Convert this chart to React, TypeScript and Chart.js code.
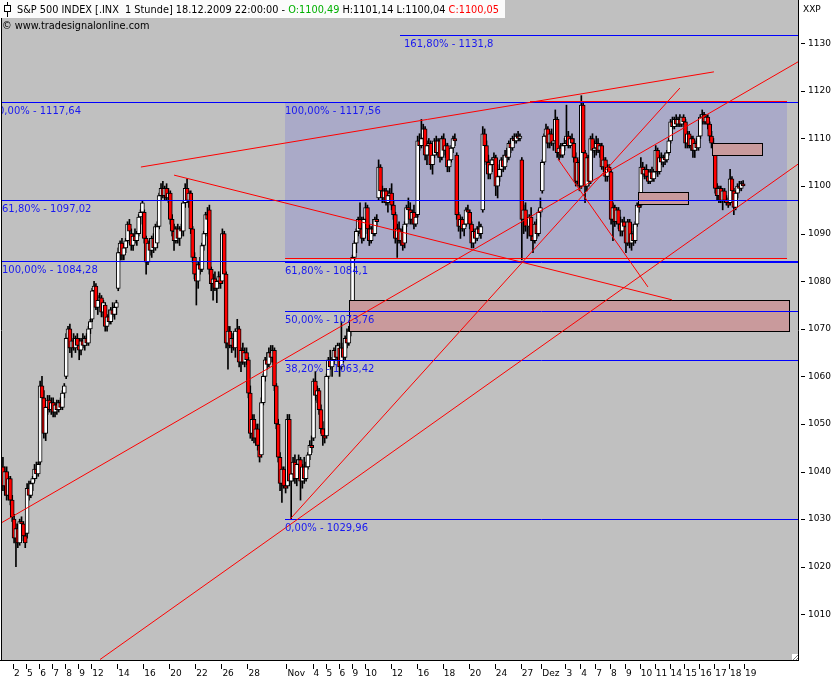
import { useEffect, useRef } from "react";
import { Chart, registerables } from "chart.js";

Chart.register(...registerables);

// ---------- data ----------
const dayLabels = [
  "", "2", "5", "6", "7", "8", "9", "12", "", "14", "", "16", "", "20", "", "22", "", "26", "", "28", "", "",
  "Nov", "", "4", "5", "6", "9", "10", "", "12", "", "16", "", "18", "", "20", "", "24", "", "27", "",
  "Dez", "", "3", "4", "7", "8", "9", "10", "11", "14", "15", "16", "17", "18", "19",
];
const barsPerDay = [
  6, 7, 7, 7, 7, 7, 7, 7, 7, 7, 7, 7, 7, 7, 7, 7, 7, 7, 7, 7, 7, 7,
  7, 7, 7, 7, 7, 7, 7, 7, 7, 7, 7, 7, 7, 7, 7, 7, 7, 7, 4, 7,
  7, 6, 8, 8, 8, 8, 8, 8, 8, 8, 8, 8, 8, 8, 0,
];

const open = [
  1041, 1037, 1040, 1035, 1038.5, 1034,
  1030, 1026, 1028, 1025, 1029.5, 1029, 1026.5,
  1027, 1036.5, 1035, 1037.5, 1038.5, 1040.5, 1039.5,
  1042, 1058, 1055.5, 1048, 1053.5, 1055, 1053,
  1054.5, 1052.5, 1054, 1053, 1054.5, 1053.5, 1056.5,
  1060, 1068, 1070, 1066, 1067.5, 1066, 1068,
  1066.5, 1065.5, 1067.5, 1066.5, 1068, 1067, 1070,
  1072, 1078, 1079, 1074.5, 1076, 1076.5, 1073.5,
  1075, 1070.5, 1072.5, 1071.5, 1074, 1073, 1074.5,
  1078.5, 1086, 1088, 1085.5, 1087, 1088.5, 1092,
  1090, 1087.5, 1089.5, 1088.5, 1090, 1093.5, 1094.5,
  1094.5, 1089, 1084, 1088, 1086.5, 1089, 1087,
  1088, 1091.5, 1098, 1099.5, 1098, 1099.5, 1097.5,
  1098.5, 1093, 1090.5, 1088.5, 1091, 1089, 1091,
  1090.5, 1096.5, 1099.5, 1097, 1098.5, 1091, 1085,
  1081.5, 1080, 1083.5, 1082.5, 1087.5, 1090, 1094,
  1095, 1082.5, 1079.5, 1080.5, 1078.5, 1080, 1081,
  1080, 1090, 1081.5, 1067, 1069.5, 1066.5, 1068,
  1066, 1069.5, 1070, 1063, 1065.5, 1063, 1065,
  1063.5, 1056.5, 1048, 1051, 1047, 1049, 1045.5,
  1043.5, 1054.5, 1060, 1063.5, 1062.5, 1065, 1064,
  1065.5, 1058, 1050, 1043, 1037.5, 1040.5, 1037,
  1037, 1051, 1038, 1039.5, 1042, 1038.5, 1041.5,
  1042.5, 1038, 1041, 1038.5, 1041, 1043.5, 1045.5,
  1047, 1059, 1056, 1057, 1053, 1049, 1047.5,
  1047.5, 1060, 1063.5, 1062, 1063.5, 1065.5, 1064,
  1066, 1062, 1066, 1064, 1068, 1067, 1069.5,
  1070, 1085, 1088, 1090.5, 1093, 1091, 1089,
  1093, 1095.5, 1091, 1088.5, 1091, 1090, 1093,
  1097.5, 1104, 1099, 1097.5, 1099, 1096.5, 1098,
  1098.5, 1096, 1094, 1089, 1091, 1088.5, 1090.5,
  1088, 1092, 1095.5, 1095, 1093, 1094.5, 1092,
  1094, 1109.5, 1108.5, 1110, 1112, 1106.5, 1108.5,
  1109, 1104.5, 1106.5, 1109.5, 1107, 1109.5, 1106,
  1110, 1107.5, 1108.5, 1104, 1105.5, 1108, 1110,
  1106.5, 1094, 1091.5, 1093, 1091, 1092, 1095,
  1094.5, 1092, 1088, 1090.5, 1089, 1091, 1090,
  1095, 1111, 1108.5, 1105, 1102.5, 1104.5, 1105.5,
  1106, 1100, 1102, 1103.5, 1105.5, 1104, 1106.5,
  1106, 1109, 1108, 1110, 1109.5, 1110.5, 1110,
  1105.5, 1093, 1095, 1091.5,
  1091.5, 1093.5, 1089.5, 1088.5, 1092, 1090, 1094.5,
  1099, 1105, 1110.5, 1112, 1109, 1111, 1109,
  1109.5, 1114, 1107, 1108, 1106.5, 1108.5,
  1109.5, 1110.5, 1108.5, 1110, 1109, 1106, 1101, 1105,
  1100, 1117, 1107, 1100, 1106, 1101, 1110, 1107.5,
  1108, 1109, 1107.5, 1108.5, 1104, 1105.5, 1102, 1104,
  1103, 1093, 1095.5, 1092.5, 1095, 1092, 1090.5, 1092.5,
  1091.5, 1088, 1092.5, 1088, 1090, 1088.5, 1092, 1096,
  1096, 1104, 1102.5, 1103.5, 1102, 1101, 1103, 1101.5,
  1103, 1107.5, 1103, 1106, 1105, 1106, 1105.5, 1107,
  1109.5, 1113.5, 1112.5, 1114, 1113, 1114, 1113, 1114.5,
  1113.5, 1109, 1111, 1108.5, 1110, 1107.5, 1109, 1108,
  1110.5, 1114.5, 1115, 1113.5, 1114.5, 1113, 1110.5, 1109,
  1106.5, 1099.5, 1098, 1099.5, 1097, 1099, 1097, 1096.5,
  1096.5, 1101.5, 1099, 1095.5, 1098.5, 1100, 1099.5, 1100.49,
];

const high = [
  1043, 1041, 1041, 1039, 1039, 1035,
  1031, 1029, 1029, 1030, 1030.5, 1029.5, 1028,
  1037.5, 1038, 1038, 1039, 1041.5, 1042, 1042,
  1059, 1060, 1057, 1054, 1056, 1056, 1055.5,
  1055.5, 1054.5, 1055, 1055, 1055.5, 1057, 1058.5,
  1069, 1070.5, 1071, 1068, 1069, 1068.5, 1069,
  1068, 1068, 1069, 1068.5, 1069, 1070.5, 1072,
  1078.5, 1080, 1079.5, 1077, 1077.5, 1077, 1076,
  1075.5, 1073, 1074, 1074.5, 1075.5, 1075, 1076,
  1087, 1088.5, 1089, 1088, 1089, 1092.5, 1093,
  1091, 1090, 1091, 1090.5, 1094, 1095, 1097,
  1095, 1089.5, 1088.5, 1089, 1089.5, 1090, 1092,
  1092.5, 1098.5, 1100.5, 1101, 1100, 1100.5, 1099.5,
  1099, 1094, 1092, 1091.5, 1092, 1091.5, 1092,
  1097, 1100.5, 1101.5, 1099, 1099, 1091.5, 1086,
  1083.5, 1084, 1085, 1088, 1090.5, 1094.5, 1095.5,
  1096, 1083, 1081.5, 1082, 1080.5, 1082, 1081.5,
  1091, 1090.5, 1082, 1070.5, 1070.5, 1069, 1069,
  1070, 1072, 1070.5, 1066, 1067, 1066, 1066,
  1064, 1058, 1052, 1052, 1050, 1050, 1046.5,
  1055.5, 1060.5, 1064, 1065, 1066, 1066.5, 1066.5,
  1066, 1058.5, 1051, 1044, 1041, 1041, 1039,
  1052, 1052, 1040, 1043, 1043.5, 1042.5, 1043.5,
  1043, 1041.5, 1043, 1042, 1044, 1046.5, 1047.5,
  1059.5, 1061, 1058, 1057.5, 1054, 1050.5, 1049,
  1060.5, 1064, 1065.5, 1064, 1066, 1066.5, 1067,
  1067, 1071.5, 1067, 1068.5, 1070, 1070.5, 1072,
  1085.5, 1088.5, 1091, 1093.5, 1096.5, 1093.5, 1093.5,
  1096.5, 1096, 1092, 1091.5, 1093, 1093.5, 1094,
  1105.5, 1104.5, 1100, 1099.5, 1099.5, 1099, 1099.5,
  1100.5, 1097, 1094.5, 1092, 1092.5, 1091, 1091.5,
  1092.5, 1096, 1097.5, 1096.5, 1095, 1096, 1094,
  1110.5, 1111, 1114, 1113, 1112.5, 1109.5, 1110,
  1109.5, 1107, 1110, 1110.5, 1110, 1110, 1110.5,
  1111, 1109, 1109, 1106.5, 1108.5, 1110.5, 1111,
  1107, 1094.5, 1093.5, 1093.5, 1092.5, 1095.5, 1096,
  1095, 1092.5, 1091, 1091, 1091.5, 1092.5, 1092,
  1112.5, 1112, 1109.5, 1106.5, 1105.5, 1106, 1107,
  1106.5, 1102.5, 1104.5, 1106, 1106.5, 1107.5, 1108,
  1109.5, 1110, 1110.5, 1111, 1111, 1111.5, 1111,
  1106, 1096, 1096.5, 1093,
  1094, 1095.5, 1090.5, 1092.5, 1093, 1095, 1097.5,
  1105.5, 1111, 1113, 1112.5, 1111.5, 1112, 1110,
  1116, 1114.5, 1108.5, 1109, 1109, 1110,
  1117, 1111.5, 1110.5, 1111, 1110, 1107, 1105.5, 1106,
  1119, 1117.5, 1107.5, 1106.5, 1106.5, 1110.5, 1111, 1109.5,
  1110.5, 1110, 1109, 1109, 1106, 1106, 1104.5, 1104.5,
  1103.5, 1096.5, 1096, 1095.5, 1095.5, 1093.5, 1093, 1093.5,
  1092.5, 1093, 1093, 1090.5, 1092, 1092.5, 1096.5, 1097,
  1106, 1105, 1104, 1104.5, 1103.5, 1103.5, 1104, 1103.5,
  1108.5, 1108, 1106.5, 1107, 1106.5, 1107, 1107.5, 1110,
  1114, 1114.5, 1114.5, 1115, 1114.5, 1115, 1114.5, 1115,
  1114, 1111.5, 1111.5, 1110.5, 1110.5, 1109.5, 1110, 1110.5,
  1115, 1116, 1115.5, 1115, 1115, 1113.5, 1111.5, 1110,
  1107, 1100.5, 1100, 1100, 1099.5, 1099.5, 1098, 1097.5,
  1103.5, 1102, 1099.5, 1099, 1100.5, 1101, 1101, 1101.14,
];

const low = [
  1036, 1035, 1034, 1034, 1033, 1029.5,
  1025, 1020, 1024, 1024.5, 1028, 1025.5, 1024,
  1026, 1034, 1034.5, 1036, 1038, 1038.5, 1039,
  1041.5, 1055, 1047, 1046.5, 1052, 1052.5, 1052,
  1051.5, 1051.5, 1052, 1052.5, 1053, 1053, 1055.5,
  1059.5, 1066, 1065, 1064, 1065.5, 1065, 1066,
  1063.5, 1064.5, 1066, 1065.5, 1066.5, 1066.5, 1069,
  1071.5, 1076.5, 1074, 1073, 1075, 1072.5, 1072.5,
  1069.5, 1069.5, 1071, 1071, 1072.5, 1072, 1073,
  1078, 1084.5, 1084.5, 1084.5, 1086, 1088, 1089.5,
  1086.5, 1086.5, 1088, 1087.5, 1089.5, 1092, 1094,
  1088, 1081.5, 1083.5, 1085.5, 1085, 1086, 1086.5,
  1087, 1091, 1097, 1097.5, 1097, 1097, 1096.5,
  1092, 1089.5, 1086.5, 1088, 1088, 1087.5, 1089.5,
  1089.5, 1095.5, 1096.5, 1095.5, 1090, 1084, 1080.5,
  1075, 1078.5, 1081.5, 1082, 1086.5, 1089.5, 1091.5,
  1081.5, 1078, 1076, 1078, 1075.5, 1078.5, 1078.5,
  1079.5, 1080.5, 1066, 1061.5, 1066, 1065, 1065.5,
  1064, 1068, 1062, 1061, 1062.5, 1062, 1062.5,
  1055.5, 1047, 1046.5, 1046, 1045.5, 1044.5, 1042,
  1043, 1054, 1059, 1061.5, 1062, 1063, 1063,
  1057, 1049, 1042, 1036, 1033.5, 1036.5, 1035.5,
  1036.5, 1037, 1029.96, 1038, 1037.5, 1037, 1040,
  1034, 1036.5, 1037.5, 1038, 1040.5, 1042.5, 1044,
  1046.5, 1055, 1054.5, 1052, 1048, 1045.5, 1046,
  1047, 1059.5, 1061.5, 1060, 1062.5, 1063.5, 1063.5,
  1060, 1061.5, 1063, 1063.5, 1066, 1066.5, 1068.5,
  1069.5, 1084.5, 1086, 1089.5, 1090, 1088, 1088.5,
  1091.5, 1090, 1087.5, 1088, 1089.5, 1089.5, 1091.5,
  1097, 1098, 1096.5, 1096.5, 1096, 1094.5, 1096.5,
  1095, 1093, 1088, 1085, 1088, 1087.5, 1086.5,
  1087, 1091.5, 1094, 1092, 1092, 1091, 1091.5,
  1093.5, 1107.5, 1108, 1108.5, 1105.5, 1104.5, 1106.5,
  1103.5, 1102.5, 1106, 1106.5, 1106, 1105, 1105.5,
  1106.5, 1106, 1103, 1103, 1105, 1107, 1108.5,
  1093, 1090.5, 1089, 1090.5, 1089.5, 1091.5, 1093,
  1091, 1087, 1087, 1088, 1088.5, 1089.5, 1089,
  1094.5, 1107, 1104.5, 1101.5, 1101.5, 1103, 1104.5,
  1098, 1097.5, 1101, 1102, 1103, 1103.5, 1105,
  1105.5, 1107, 1107.5, 1109, 1109, 1109.5, 1109.5,
  1084.5, 1090, 1090.5, 1089,
  1089.5, 1088.5, 1086, 1088, 1089, 1089.5, 1093.5,
  1098.5, 1104.5, 1109, 1108, 1108, 1108.5, 1107.5,
  1109, 1106, 1105.5, 1106, 1106, 1107.5,
  1109, 1108, 1108, 1108.5, 1105, 1100, 1100.5, 1099,
  1099.5, 1106, 1096.5, 1099, 1100, 1100.5, 1107, 1106,
  1106.5, 1107, 1106, 1103.5, 1103, 1101, 1101, 1102,
  1092, 1088.5, 1091.5, 1092, 1091, 1089.5, 1089.5, 1090.5,
  1086, 1087.5, 1087, 1086.5, 1087.5, 1088, 1091.5, 1094.5,
  1095.5, 1102, 1101.5, 1101.5, 1100.5, 1100.5, 1101, 1101,
  1102.5, 1102, 1102.5, 1104.5, 1104, 1104.5, 1105, 1106.5,
  1109, 1112, 1112, 1112.5, 1112.5, 1112.5, 1112.5, 1113,
  1108, 1108, 1108, 1107.5, 1106, 1106, 1107.5, 1107.5,
  1110, 1113, 1113, 1113, 1112, 1109.5, 1108, 1107.5,
  1098.5, 1097, 1096.5, 1096.5, 1095, 1096.5, 1096, 1095.5,
  1096, 1097.5, 1094, 1095, 1097.5, 1099, 1099, 1100.04,
];

const close = [
  1037, 1040, 1035, 1038.5, 1034, 1030.5,
  1026, 1028, 1025, 1029.5, 1029, 1026.5, 1025,
  1036.5, 1035, 1037.5, 1038.5, 1040.5, 1039.5, 1041.5,
  1058, 1055.5, 1048, 1053.5, 1055, 1053, 1054.5,
  1052.5, 1054, 1053, 1054.5, 1053.5, 1056.5, 1058,
  1068, 1070, 1066, 1067.5, 1066, 1068, 1066.5,
  1065.5, 1067.5, 1066.5, 1068, 1067, 1070, 1071.5,
  1078, 1079, 1074.5, 1076, 1076.5, 1073.5, 1075.5,
  1070.5, 1072.5, 1071.5, 1074, 1073, 1074.5, 1075.5,
  1086, 1088, 1085.5, 1087, 1088.5, 1092, 1090.5,
  1087.5, 1089.5, 1088.5, 1090, 1093.5, 1094.5, 1096.5,
  1089, 1084, 1088, 1086.5, 1089, 1087, 1091.5,
  1091.5, 1098, 1099.5, 1098, 1099.5, 1097.5, 1098.5,
  1093, 1090.5, 1088.5, 1091, 1089, 1091, 1090.5,
  1096.5, 1099.5, 1097, 1098.5, 1091, 1085, 1081.5,
  1080, 1083.5, 1082.5, 1087.5, 1090, 1094, 1093,
  1082.5, 1079.5, 1080.5, 1078.5, 1080, 1081, 1079.5,
  1090, 1081.5, 1067, 1069.5, 1066.5, 1068, 1066,
  1069.5, 1070, 1063, 1065.5, 1063, 1065, 1063.5,
  1056.5, 1048, 1051, 1047, 1049, 1045.5, 1043,
  1054.5, 1060, 1063.5, 1062.5, 1065, 1064, 1065.5,
  1058, 1050, 1043, 1037.5, 1040.5, 1037, 1036.5,
  1051, 1038, 1039.5, 1042, 1038.5, 1041.5, 1042.5,
  1038, 1041, 1038.5, 1041, 1043.5, 1045.5, 1045,
  1059, 1056, 1057, 1053, 1049, 1047.5, 1047,
  1060, 1063.5, 1062, 1063.5, 1065.5, 1064, 1066.5,
  1062, 1066, 1064, 1068, 1067, 1069.5, 1070,
  1085, 1088, 1090.5, 1093, 1091, 1089, 1093,
  1095.5, 1091, 1088.5, 1091, 1090, 1093, 1092.5,
  1104, 1099, 1097.5, 1099, 1096.5, 1098, 1098.5,
  1096, 1094, 1089, 1091, 1088.5, 1090.5, 1087.5,
  1092, 1095.5, 1095, 1093, 1094.5, 1092, 1093.5,
  1109.5, 1108.5, 1110, 1112, 1106.5, 1108.5, 1109,
  1104.5, 1106.5, 1109.5, 1107, 1109.5, 1106, 1110,
  1107.5, 1108.5, 1104, 1105.5, 1108, 1110, 1109.5,
  1094, 1091.5, 1093, 1091, 1092, 1095, 1094.5,
  1092, 1088, 1090.5, 1089, 1091, 1090, 1091.5,
  1111, 1108.5, 1105, 1102.5, 1104.5, 1105.5, 1106,
  1100, 1102, 1103.5, 1105.5, 1104, 1106.5, 1106,
  1109, 1108, 1110, 1109.5, 1110.5, 1110, 1110.5,
  1093, 1095, 1091.5, 1091.5,
  1093.5, 1089.5, 1088.5, 1092, 1090, 1094.5, 1095.5,
  1105, 1110.5, 1112, 1109, 1111, 1109, 1109.5,
  1114, 1107, 1108, 1106.5, 1108.5, 1109,
  1110.5, 1108.5, 1110, 1109, 1106, 1101, 1105, 1100,
  1117, 1107, 1100, 1106, 1101, 1110, 1107.5, 1108,
  1109, 1107.5, 1108.5, 1104, 1105.5, 1102, 1104, 1103,
  1093, 1095.5, 1092.5, 1095, 1092, 1090.5, 1092.5, 1091.5,
  1088, 1092.5, 1088, 1090, 1088.5, 1092, 1096, 1095.5,
  1104, 1102.5, 1103.5, 1102, 1101, 1103, 1101.5, 1103,
  1107.5, 1103, 1106, 1105, 1106, 1105.5, 1107, 1109.5,
  1113.5, 1112.5, 1114, 1113, 1114, 1113, 1114.5, 1113.5,
  1109, 1111, 1108.5, 1110, 1107.5, 1109, 1108, 1110.5,
  1114.5, 1115, 1113.5, 1114.5, 1113, 1110.5, 1109, 1108.5,
  1099.5, 1098, 1099.5, 1097, 1099, 1097, 1096.5, 1096,
  1101.5, 1099, 1095.5, 1098.5, 1100, 1099.5, 1100.5, 1100.05,
];

// axis range
const slotCount = 428;
const yMin = 1000.4;
const yMax = 1139.1;
const yStep = 10;

// Fibonacci levels (price) with their captions and first bar slot
const fibLevels = [1131.8, 1117.64, 1117.56, 1097.02, 1084.28, 1084.1, 1073.76, 1063.42, 1029.96];
const fibTexts = [
  "161,80% - 1131,8", "0,00% - 1117,64", "100,00% - 1117,56", "61,80% - 1097,02",
  "100,00% - 1084,28", "61,80% - 1084,1", "50,00% - 1073,76", "38,20% - 1063,42", "0,00% - 1029,96",
];
const fibFromSlot = [213.5, -0.5, 151.7, -0.5, -0.5, 151.7, 151.7, 151.7, 151.7];

// trend lines: [slot1, price1, slot2, price2]
const trendLines = [
  [74.2, 1104.0, 382.3, 1124.0],
  [92.0, 1102.3, 359.7, 1076.1],
  [-0.5, 1029.3, 427.5, 1126.1],
  [52.2, 1000.5, 427.5, 1104.6],
  [154.3, 1029.96, 364.0, 1120.6],
  [298.4, 1105.7, 346.8, 1078.8],
  [283.4, 1117.9, 421.6, 1117.9],
  [151.7, 1084.8, 421.6, 1084.8],
];

// zones: [slot1, slot2, priceTop, priceBottom]
const rangeZone = [151.7, 421.6, 1117.6, 1084.8];
const pinkZones = [
  [186.1, 422.6, 1076.1, 1069.6],
  [381.2, 408.1, 1109.0, 1106.5],
  [341.4, 368.3, 1098.7, 1096.2],
];

const headerTitle = "S&P 500 INDEX [.INX  1 Stunde] 18.12.2009 22:00:00 - ";
const headerOpen = "O:1100,49";
const headerHL = " H:1101,14 L:1100,04 ";
const headerClose = "C:1100,05";
const copyrightText = "\u00A9 www.tradesignalonline.com";
const unitText = "XXP";

// ---------- derived tables ----------
const slotLabels: string[] = [];
dayLabels.forEach((lab, d) => {
  const n = Math.max(barsPerDay[d], 1);
  for (let j = 0; j < n; j++) slotLabels.push(j === 0 ? lab : "");
});
while (slotLabels.length < slotCount) slotLabels.push("");

const FONT = '"DejaVu Sans", sans-serif';

const overlayPlugin = {
  id: "tsOverlay",
  beforeDraw(chart: any) {
    const { ctx, chartArea: a, width, height } = chart;
    ctx.save();
    ctx.fillStyle = "#ffffff";
    ctx.fillRect(0, 0, width, height);
    ctx.fillStyle = "#c0c0c0";
    ctx.fillRect(a.left, a.top, a.right - a.left, a.bottom - a.top);
    ctx.restore();
  },
  beforeDatasetsDraw(chart: any) {
    const { ctx, scales } = chart;
    const x = scales.x, y = scales.y;
    const [s1, s2, pt, pb] = rangeZone;
    const x1 = Math.round(x.getPixelForValue(s1));
    const x2 = Math.round(x.getPixelForValue(s2));
    const y1 = Math.round(y.getPixelForValue(pt));
    const y2 = Math.round(y.getPixelForValue(pb));
    ctx.save();
    ctx.fillStyle = "#aaaac8";
    ctx.fillRect(x1, y1, x2 - x1, y2 - y1);
    ctx.restore();
  },
  afterDatasetsDraw(chart: any) {
    const { ctx, chartArea: a, scales } = chart;
    const x = scales.x, y = scales.y;
    ctx.save();
    ctx.beginPath();
    ctx.rect(a.left, a.top, a.right - a.left, a.bottom - a.top);
    ctx.clip();

    // pink zones
    pinkZones.forEach(([s1, s2, pt, pb]) => {
      const x1 = Math.round(x.getPixelForValue(s1));
      const x2 = Math.round(x.getPixelForValue(s2));
      const y1 = Math.round(y.getPixelForValue(pt));
      const y2 = Math.round(y.getPixelForValue(pb));
      ctx.fillStyle = "#c99a9c";
      ctx.fillRect(x1, y1, x2 - x1, y2 - y1);
      ctx.strokeStyle = "#000000";
      ctx.lineWidth = 1;
      ctx.strokeRect(x1 + 0.5, y1 + 0.5, x2 - x1, y2 - y1);
    });

    // fib lines
    ctx.strokeStyle = "#0000ff";
    ctx.lineWidth = 1;
    fibLevels.forEach((lv, i) => {
      const yy = Math.round(y.getPixelForValue(lv)) + 0.5;
      const xs = x.getPixelForValue(fibFromSlot[i]);
      ctx.beginPath();
      ctx.moveTo(Math.round(xs), yy);
      ctx.lineTo(a.right, yy);
      ctx.stroke();
    });

    // trend lines
    ctx.strokeStyle = "#ff0000";
    ctx.lineWidth = 1;
    trendLines.forEach(([s1, p1, s2, p2]) => {
      ctx.beginPath();
      const horizontal = p1 === p2;
      const y1 = horizontal ? Math.round(y.getPixelForValue(p1)) + 0.5 : y.getPixelForValue(p1);
      const y2 = horizontal ? y1 : y.getPixelForValue(p2);
      ctx.moveTo(x.getPixelForValue(s1), y1);
      ctx.lineTo(x.getPixelForValue(s2), y2);
      ctx.stroke();
    });

    // fib captions
    ctx.font = "10px " + FONT;
    ctx.fillStyle = "#1818f0";
    ctx.textBaseline = "middle";
    ctx.textAlign = "left";
    fibLevels.forEach((lv, i) => {
      const yy = Math.round(y.getPixelForValue(lv)) + 9.5;
      let xs = Math.round(x.getPixelForValue(fibFromSlot[i]));
      if (fibFromSlot[i] < 0) xs = a.left + (fibTexts[i].startsWith("0,") ? -4 : 0);
      else if (fibFromSlot[i] > 200) xs += 4;
      ctx.fillText(fibTexts[i], xs, yy);
    });
    ctx.restore();
  },
  afterDraw(chart: any) {
    const { ctx, chartArea: a, scales } = chart;
    const x = scales.x, y = scales.y;
    ctx.save();
    ctx.strokeStyle = "#000000";
    ctx.lineWidth = 1;
    // left border and full bottom border
    ctx.beginPath();
    ctx.moveTo(1.5, 0);
    ctx.lineTo(1.5, a.bottom + 1);
    ctx.moveTo(0, a.bottom + 0.5);
    ctx.lineTo(a.right, a.bottom + 0.5);
    ctx.stroke();

    // y tick marks
    ctx.beginPath();
    y.ticks.forEach((t: any) => {
      const yy = Math.round(y.getPixelForValue(t.value)) + 0.5;
      ctx.moveTo(a.right + 3, yy);
      ctx.lineTo(a.right + 7, yy);
    });
    ctx.stroke();

    // x tick marks
    ctx.beginPath();
    slotLabels.forEach((lab, i) => {
      if (!lab) return;
      const xx = Math.round(x.getPixelForValue(i) - 1) + 0.5;
      ctx.moveTo(xx, a.bottom + 4);
      ctx.lineTo(xx, a.bottom + 9);
    });
    ctx.stroke();

    // unit label
    ctx.font = "9px " + FONT;
    ctx.fillStyle = "#000";
    ctx.textBaseline = "middle";
    ctx.fillText(unitText, a.right + 5, 10);

    // resize grip
    ctx.fillStyle = "#ffffff";
    ctx.fillRect(a.right - 6, a.bottom - 6, 6, 6);
    ctx.beginPath();
    ctx.moveTo(a.right - 5, a.bottom);
    ctx.lineTo(a.right, a.bottom - 5);
    ctx.moveTo(a.right - 2, a.bottom);
    ctx.lineTo(a.right, a.bottom - 2);
    ctx.strokeStyle = "#808080";
    ctx.stroke();

    // header
    ctx.fillStyle = "#fbfbfb";
    ctx.fillRect(0, 0, 505, 18);
    ctx.strokeStyle = "#000";
    ctx.beginPath();
    ctx.moveTo(7.5, 2);
    ctx.lineTo(7.5, 17);
    ctx.stroke();
    ctx.fillStyle = "#ffffff";
    ctx.fillRect(4.5, 5.5, 6, 6);
    ctx.strokeRect(4.5, 5.5, 6, 6);

    ctx.font = "9.75px " + FONT;
    ctx.textBaseline = "middle";
    let hx = 17;
    const seg = (t: string, c: string) => {
      ctx.fillStyle = c;
      ctx.fillText(t, hx, 10);
      hx += ctx.measureText(t).width;
    };
    seg(headerTitle, "#000000");
    seg(headerOpen, "#00b000");
    seg(headerHL, "#000000");
    seg(headerClose, "#ff0000");

    ctx.fillStyle = "#000000";
    ctx.fillText(copyrightText, 2, 26);
    ctx.restore();
  },
};

export default function App() {
  const ref = useRef<HTMLCanvasElement | null>(null);

  useEffect(() => {
    document.body.style.margin = "0";
    const canvas = ref.current;
    if (!canvas) return;

    const bodies = open.map((o, i) => [o, close[i]]);
    const wicks = low.map((l, i) => [l, high[i]]);
    const bodyColors = open.map((o, i) => (close[i] >= o ? "#ffffff" : "#ff0000"));

    const chart = new Chart(canvas, {
      type: "bar",
      data: {
        labels: slotLabels,
        datasets: [
          {
            label: "body",
            data: bodies as any,
            backgroundColor: bodyColors,
            borderColor: "#000000",
            borderWidth: 1,
            borderSkipped: false,
            barThickness: 4,
            minBarLength: 1,
            grouped: false,
          } as any,
          {
            label: "wick",
            data: wicks as any,
            backgroundColor: "#000000",
            borderWidth: 0,
            barThickness: 1,
            grouped: false,
          } as any,
        ],
      },
      options: {
        responsive: false,
        maintainAspectRatio: false,
        devicePixelRatio: 1,
        animation: false,
        layout: { padding: { left: 2, top: 0, right: 0, bottom: 0 } },
        plugins: {
          legend: { display: false },
          tooltip: { enabled: false },
        },
        scales: {
          x: {
            type: "category",
            position: "bottom",
            offset: true,
            grid: { display: true, offset: true, drawOnChartArea: false, drawTicks: false },
            border: { display: true, color: "#000000", width: 1 },
            ticks: {
              autoSkip: false,
              maxRotation: 0,
              minRotation: 0,
              align: "start",
              padding: 8,
              color: "#000000",
              font: { family: "DejaVu Sans", size: 9 },
              callback: (_v: any, i: number) => slotLabels[i],
            },
            afterFit: (s: any) => {
              s.height = 20;
              s.paddingLeft = 0;
              s.paddingRight = 0;
            },
          },
          y: {
            type: "linear",
            position: "right",
            min: yMin,
            max: yMax,
            grid: { display: true, drawOnChartArea: false, drawTicks: false },
            border: { display: true, color: "#000000", width: 1 },
            ticks: {
              stepSize: yStep,
              includeBounds: false,
              padding: 10,
              color: "#000000",
              font: { family: "DejaVu Sans", size: 9 },
              callback: (v: any) => String(v),
            },
            afterFit: (s: any) => {
              s.width = 42;
              s.paddingTop = 0;
              s.paddingBottom = 0;
            },
          },
        },
      } as any,
      plugins: [overlayPlugin as any],
    });

    return () => chart.destroy();
  }, []);

  return (
    <div style={{ width: 840, height: 680 }}>
      <canvas ref={ref} width={840} height={680} style={{ display: "block" }} />
    </div>
  );
}
